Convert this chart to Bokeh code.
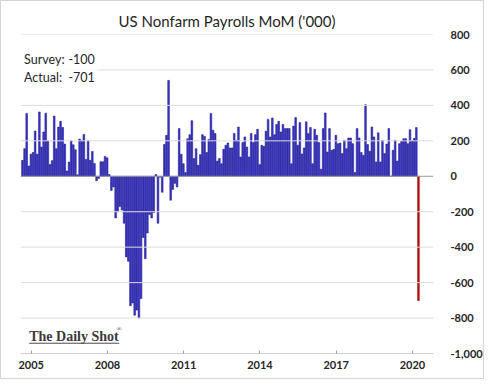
import pandas as pd
from bokeh.plotting import figure
from bokeh.models import (ColumnDataSource, FixedTicker, NumeralTickFormatter,
                          Label, Span, Arrow)
from bokeh.embed import file_html
from bokeh.resources import INLINE

# ---------------- data (monthly change, thousands), Aug 2004 .. Mar 2020 -------------
first_month = "2004-08-01"
payrolls = [
    # 2004 Aug-Dec
    90, 156, 354, 58, 125,
    # 2005
    134, 255, 125, 363, 165, 250, 356, 199, 66, 88, 340, 156,
    # 2006
    278, 310, 275, 182, 30, 80, 200, 178, 150, 8, 210, 200,
    # 2007
    236, 95, 200, 90, 140, 72, -25, -12, 82, 82, 112, 104,
    # 2008
    10, -80, -60, -235, -200, -170, -190, -265, -455, -480, -730, -715,
    # 2009
    -784, -755, -800, -690, -345, -465, -320, -215, -235, -205, 10, -265,
    # 2010
    -5, -90, 180, 231, 541, -135, -75, -40, -60, 269, 124, 71,
    # 2011
    21, 212, 235, 314, 100, 156, 62, 122, 235, 225, 134, 207,
    # 2012
    354, 260, 241, 86, 100, 71, 152, 175, 188, 160, 160, 241,
    # 2013
    203, 278, 109, 190, 222, 165, 109, 241, 190, 235, 265, 66,
    # 2014
    175, 169, 254, 321, 222, 329, 235, 292, 310, 250, 292, 269,
    # 2015
    269, 269, 71, 283, 331, 175, 303, 126, 160, 307, 241, 275,
    # 2016
    71, 265, 231, 190, 40, 269, 357, 137, 269, 147, 152, 231,
    # 2017
    184, 188, 128, 203, 156, 216, 216, 184, 21, 269, 216, 134,
    # 2018
    118, 404, 179, 141, 278, 222, 81, 245, 81, 203, 128, 182,
    # 2019
    269, 1, 147, 203, 86, 184, 197, 212, 212, 184, 263, 200,
    # 2020 Jan-Mar
    214, 275, -701,
]
survey_value = -100
actual_value = -701
tick_years = [2005, 2008, 2011, 2014, 2017, 2020]
y_ticks = [-1000, -800, -600, -400, -200, 0, 200, 400, 600, 800]

# ---------------- build table ----------------
months = pd.date_range(first_month, periods=len(payrolls), freq="MS")
bar_offset = 0.85 / 12
xpos = [float(v) for v in months.year + (months.month - 1) / 12 + bar_offset]
fills = ["#3a34d8"] * (len(payrolls) - 1) + ["#e60000"]
lines = ["#17126e"] * (len(payrolls) - 1) + ["#5a0000"]
src = ColumnDataSource(dict(x=xpos, v=payrolls, fill=fills, line=lines))

x0 = xpos[0]
x_start = x0 - 0.92 / 12
x_end = x0 + 194.1 / 12

p = figure(width=484, height=379, output_backend="svg", toolbar_location=None,
           x_range=(x_start, x_end), y_range=(-1000, 800),
           y_axis_location="right", min_border_left=19, min_border_right=43,
           min_border_top=33, min_border_bottom=27)
p.styles = {"border": "1px solid #d4d4d4"}
p.outline_line_color = None
p.background_fill_color = "white"
p.border_fill_color = "white"
p.xgrid.visible = False
p.ygrid.visible = False

# title
p.title.text = "US Nonfarm Payrolls MoM ('000)"
p.title.align = "center"
p.title.offset = -3
p.title.standoff = 10
p.title.text_font = "Lato"
p.title.text_font_style = "normal"
p.title.text_font_size = "15px"
p.title.text_color = "#1f1f1f"

# horizontal gridlines, drawn before the bars
for t in y_ticks:
    if t != 0:
        p.add_layout(Span(location=t, dimension="width", line_color="#dcdcdc",
                          line_width=1, level="glyph"))

# bars
p.vbar(x="x", top="v", bottom=0, width=0.8 / 12, fill_color="fill",
       line_color="line", line_width=0.5, source=src)

# zero line
p.add_layout(Span(location=0, dimension="width", line_color="#9a9a9a",
                  line_width=1))

# y axis (right)
ya = p.yaxis[0]
ya.ticker = FixedTicker(ticks=y_ticks)
ya.formatter = NumeralTickFormatter(format="0,0")
ya.axis_line_color = None
ya.major_tick_line_color = None
ya.minor_tick_line_color = None
ya.major_label_standoff = 11
ya.major_label_text_font = "Lato"
ya.major_label_text_font_style = "bold"
ya.major_label_text_font_size = "11px"
ya.major_label_text_color = "#262626"

# x axis (bottom)
xa = p.xaxis[0]
xa.ticker = FixedTicker(ticks=tick_years)
xa.axis_line_color = "#d0d0d0"
xa.major_tick_in = 3
xa.major_tick_out = 0
xa.major_tick_line_color = "#a0a0a0"
xa.minor_tick_line_color = None
xa.major_label_standoff = 7
xa.major_label_text_font = "Lato"
xa.major_label_text_font_style = "bold"
xa.major_label_text_font_size = "11px"
xa.major_label_text_color = "#262626"

# survey / actual (white text boxes hide the gridline behind them)
col1 = x0 - 0.65 / 12
col2 = x0 + 20.3 / 12
for txt, xx, yy in [("Survey:", col1, 661), (str(survey_value), col2, 661),
                    ("Actual:", col1, 559), (str(actual_value), col2, 559)]:
    p.add_layout(Label(x=xx, y=yy, text=txt, text_font="Lato",
                       text_font_size="12.5px", text_color="#262626",
                       text_align="left", text_baseline="middle",
                       background_fill_color="white", padding=3))

# logo
p.add_layout(Label(x=x0 + 3.2 / 12, y=-903, text="The Daily Shot",
                   text_font="Liberation Serif", text_font_style="bold",
                   text_font_size="14px", text_color="#3a3a3a",
                   text_align="left", text_baseline="alphabetic"))
p.add_layout(Label(x=x0 + 44.3 / 12, y=-860, text="®",
                   text_font="Liberation Serif", text_font_size="7px",
                   text_color="#3a3a3a", text_align="left",
                   text_baseline="middle"))
p.add_layout(Arrow(end=None, x_start=x0 + 3.2 / 12, y_start=-942,
                   x_end=x0 + 45.7 / 12, y_end=-942,
                   line_color="#4a4a4a", line_width=1))

open("out.html", "w").write(file_html(p, INLINE))
